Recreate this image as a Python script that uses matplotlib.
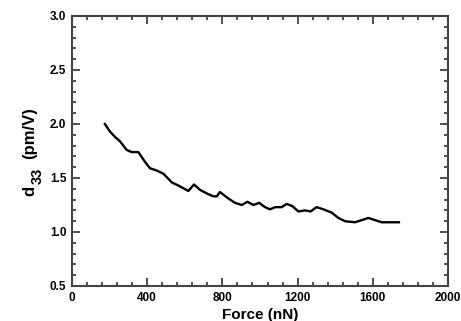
import matplotlib
matplotlib.use("Agg")
import matplotlib.pyplot as plt
from matplotlib.ticker import MultipleLocator

force = [175, 202, 229, 255, 291, 317, 353, 388, 415, 450, 486, 503, 530, 566, 619,
         649, 681, 725, 752, 770, 787, 832, 867, 903, 933, 965, 995, 1027, 1053,
         1080, 1115, 1142, 1172, 1204, 1239, 1269, 1301, 1337, 1381, 1417, 1452,
         1505, 1541, 1576, 1612, 1647, 1674, 1709, 1739]
d33 = [2.00, 1.93, 1.88, 1.84, 1.76, 1.74, 1.74, 1.65, 1.59, 1.57, 1.54, 1.51, 1.46,
       1.43, 1.38, 1.44, 1.39, 1.35, 1.33, 1.33, 1.37, 1.31, 1.27, 1.25, 1.28,
       1.25, 1.27, 1.23, 1.21, 1.23, 1.23, 1.26, 1.24, 1.19, 1.20, 1.19, 1.23,
       1.21, 1.18, 1.13, 1.10, 1.09, 1.11, 1.13, 1.11, 1.09, 1.09, 1.09, 1.09]
xticks = [0, 400, 800, 1200, 1600, 2000]
yticks = [0.5, 1.0, 1.5, 2.0, 2.5, 3.0]

plt.rcParams['font.family'] = ['Liberation Sans', 'DejaVu Sans']
plt.rcParams['font.weight'] = 'bold'

W, H = 461, 321
fig = plt.figure(figsize=(W/100, H/100), dpi=100)
ax = fig.add_axes([72/W, 1-286/H, (448-72)/W, (286-16)/H])
ax.plot(force, d33, color='black', lw=1.7)
ax.set_xlim(0, 2000)
ax.set_ylim(0.5, 3.0)
ax.set_xticks(xticks)
ax.set_yticks(yticks)
ax.set_xticklabels([str(v) for v in xticks])
ax.set_yticklabels([f"{v:.1f}" for v in yticks])
ax.xaxis.set_minor_locator(MultipleLocator(80))
ax.yaxis.set_minor_locator(MultipleLocator(0.1))
ax.tick_params(which='both', direction='in', top=True, right=True, labelsize=8.5,
               width=1.2, colors='#333333', labelcolor='black')
ax.tick_params(which='major', length=6, pad=4)
ax.tick_params(which='minor', length=3)
for s in ax.spines.values():
    s.set_linewidth(1.5)
    s.set_color('#444444')
ax.set_xlabel('Force (nN)', fontsize=11, fontweight='bold', labelpad=3)

# y label built from pieces so the subscript is large and well lowered
kw = dict(rotation=90, rotation_mode='anchor', ha='left', va='baseline',
          fontweight='bold', transform=fig.transFigure)
fig.text(34/W, 1-196/H, 'd', fontsize=12, **kw)
fig.text(42/W, 1-184/H, '33', fontsize=10.5, **kw)
fig.text(34/W, 1-159/H, '(pm/V)', fontsize=12, **kw)
fig.savefig('out.png', dpi=100)
